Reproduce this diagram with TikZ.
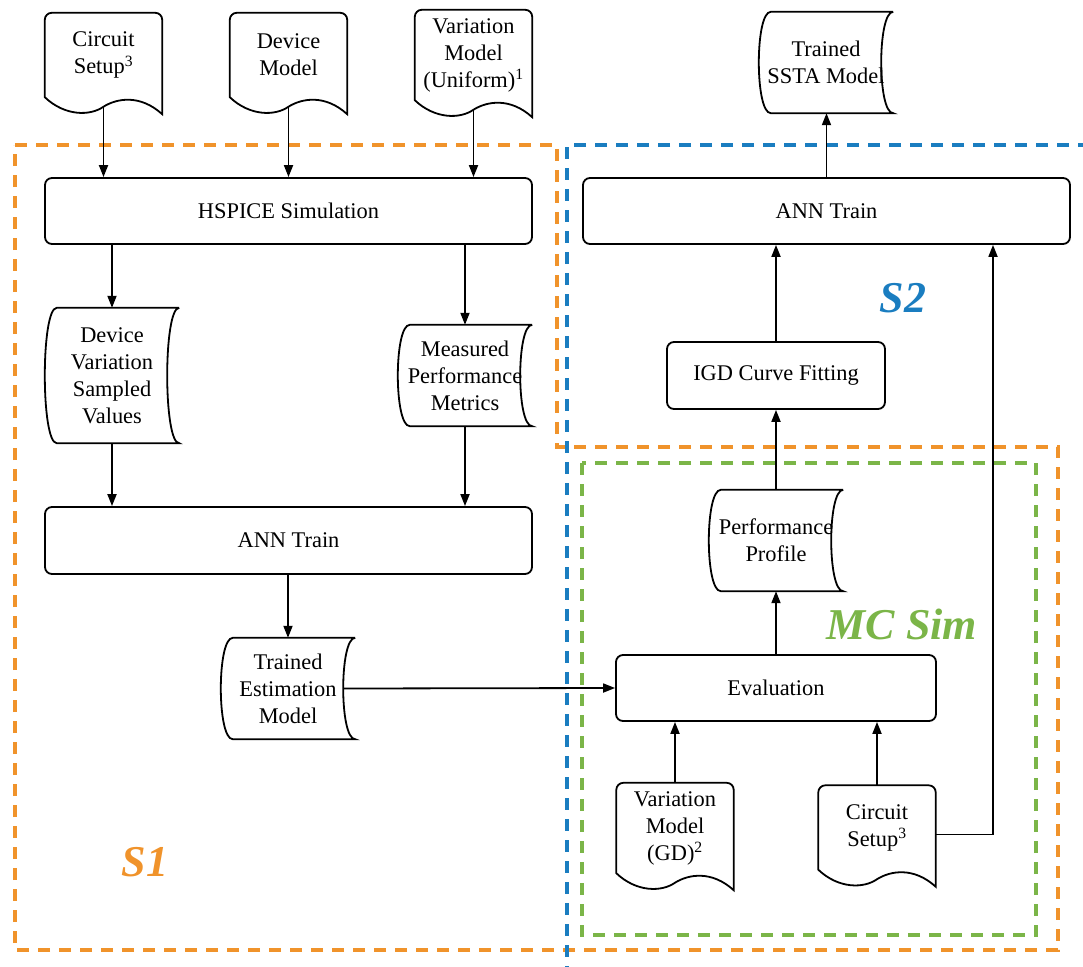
\documentclass[tikz,border=0pt]{standalone}
\usepackage{fontspec}
\setmainfont{Liberation Serif}
\usetikzlibrary{arrows.meta, positioning}
\definecolor{sone}{HTML}{F0932B}
\definecolor{stwo}{HTML}{1A7DC0}
\definecolor{mcsim}{HTML}{7BB548}

\begin{document}
\begin{tikzpicture}[x=1pt, y=-1pt, font=\fontsize{22.4}{27}\selectfont,
    box/.style = {draw, line width=1.8pt, rounded corners=7pt, align=center},
    doc/.style = {minimum width=117pt, minimum height=84pt, align=center, inner sep=2pt},
    store/.style = {minimum width=134pt, minimum height=101pt, align=center, inner sep=2pt},
    line/.style = {line width=1.8pt},
    flow/.style = {line width=1.8pt, -{Triangle[length=12pt,width=9pt]}},
    zone/.style = {line width=3.5pt, dash pattern=on 12pt off 9pt},
    tag/.style = {font=\fontsize{44}{50}\selectfont\bfseries\itshape}]
    \useasboundingbox (0,0) rectangle (1083,966);

    % regions
    \draw[zone, sone] (15,145) -- (557,145) -- (557,447) -- (1058,447) -- (1058,950) -- (15,950) -- cycle;
    \draw[zone, stwo] (1090,145) -- (567,145) -- (567,975);
    \draw[zone, mcsim] (582,463) rectangle (1036,935);
    \node[tag, sone]  (s1)  at (145,862) {S1};
    \node[tag, stwo]  (s2)  at (903,298) {S2};
    \node[tag, mcsim] (mc)  at (902,624) {MC Sim};

    % documents
    \node[doc] (cs1) at (103.5,55)  {Circuit\\Setup\textsuperscript{3}};
    \node[doc] (dm)  at (288.5,55)  {Device\\Model};
    \node[doc, minimum height=90pt] (vmu) at (473.5,55) {Variation\\Model\\(Uniform)\textsuperscript{1}};
    \node[doc, minimum height=90pt] (vmg) at (675,828)  {Variation\\Model\\(GD)\textsuperscript{2}};
    \node[doc] (cs2) at (877,827.5) {Circuit\\Setup\textsuperscript{3}};

    % stored data
    \node[store] (ssta) at (826,62.5)  {Trained\\SSTA Model};
    \node[store, minimum height=135pt] (dvsv) at (112,375.5) {Device\\Variation\\Sampled\\Values};
    \node[store] (mpm)  at (465,375.5)  {Measured\\Performance\\Metrics};
    \node[store] (pp)   at (776,540.5) {Performance\\Profile};
    \node[store] (tem)  at (288,688.5)  {Trained\\Estimation\\Model};

    % processes
    \node[box, minimum width=487pt, minimum height=66pt] (hspice) at (288.5,211)   {HSPICE Simulation};
    \node[box, minimum width=487pt, minimum height=66pt] (ann1)   at (826.5,211)   {ANN Train};
    \node[box, minimum width=487pt, minimum height=67pt] (ann2)   at (288.5,540.5) {ANN Train};
    \node[box, minimum width=218pt, minimum height=67pt] (igd)    at (776,375.5)   {IGD Curve Fitting};
    \node[box, minimum width=320pt, minimum height=66pt] (eval)   at (776,688)     {Evaluation};

    \foreach \n in {cs1,dm,vmu,vmg,cs2}
        \draw[line] (\n.south west) -- ([yshift=-7pt]\n.north west)
            arc[start angle=180, end angle=90, radius=7pt] -- ([xshift=-7pt]\n.north east)
            arc[start angle=90, end angle=0, radius=7pt] -- ([yshift=-17pt]\n.south east)
            .. controls +(-22pt,20pt) and +(13.5pt,8.5pt) .. ([yshift=-9.5pt]\n.south)
            .. controls +(-13.5pt,-9.5pt) and +(20pt,-19pt) .. (\n.south west) -- cycle;

    \foreach \n in {ssta,dvsv,mpm,pp,tem}
        \draw[line] (\n.north east) -- ([xshift=12pt]\n.north west)
            .. controls ([xshift=-4pt]\n.north west) and ([xshift=-4pt]\n.south west) .. ([xshift=12pt]\n.south west)
            -- (\n.south east)
            .. controls ([xshift=-16pt]\n.south east) and ([xshift=-16pt]\n.north east) .. (\n.north east);

    % flows of S1
    \draw[flow] ([yshift=-9.5pt]cs1.south) -- (cs1 |- hspice.north);
    \draw[flow] ([yshift=-9.5pt]dm.south) -- (dm |- hspice.north);
    \draw[flow] ([yshift=-9.5pt]vmu.south) -- (vmu |- hspice.north);
    \draw[flow] (dvsv |- hspice.south) -- (dvsv.north);
    \draw[flow] (mpm |- hspice.south) -- (mpm.north);
    \draw[flow] (dvsv.south) -- (dvsv |- ann2.north);
    \draw[flow] (mpm.south) -- (mpm |- ann2.north);
    \draw[flow] (tem |- ann2.south) -- (tem.north);
    \draw[flow] ([xshift=-12pt]tem.east) -- (eval.west);

    % flows of MC Sim and S2
    \draw[flow] (vmg.north) -- (vmg |- eval.south);
    \draw[flow] (cs2.north) -- (cs2 |- eval.south);
    \draw[flow] (eval.north) -- (eval |- pp.south);
    \draw[flow] (pp.north) -- (pp |- igd.south);
    \draw[flow] (igd.north) -- (igd |- ann1.south);
    \draw[flow] (ann1.north) -- (ann1 |- ssta.south);
    \draw[flow] ([yshift=-7pt]cs2.east) -| ([xshift=166.5pt]ann1.south);
\end{tikzpicture}
\end{document}
